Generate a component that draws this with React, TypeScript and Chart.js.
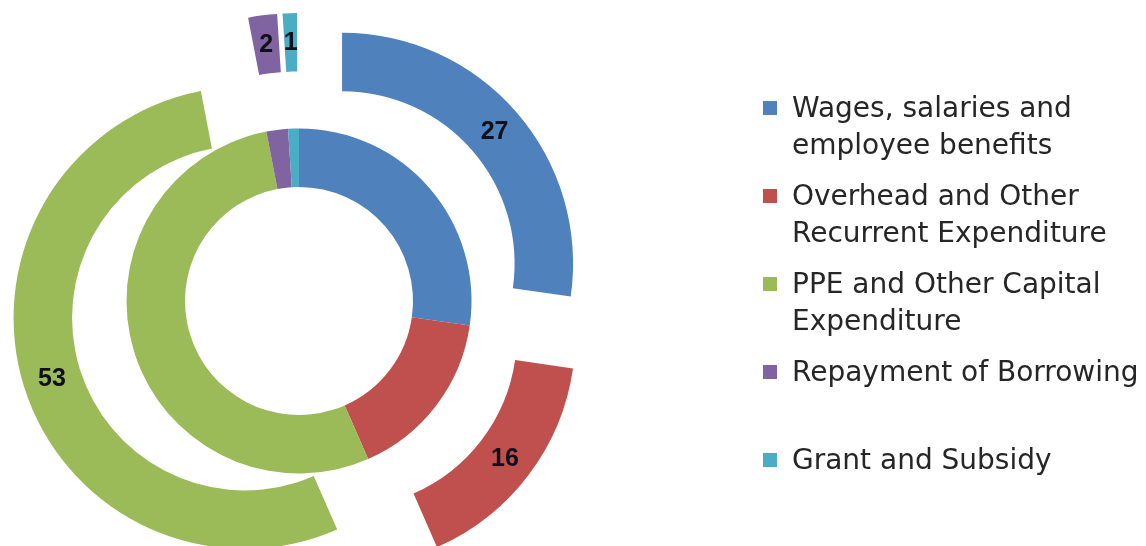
import React, { useEffect, useRef } from "react";
import { Chart, registerables } from "chart.js";

Chart.register(...registerables);

const categories = [
  "Wages, salaries and employee benefits",
  "Overhead and Other Recurrent Expenditure",
  "PPE and Other Capital Expenditure",
  "Repayment of Borrowing",
  "Grant and Subsidy",
];
const legendLines = [
  ["Wages, salaries and", "employee benefits"],
  ["Overhead and Other", "Recurrent Expenditure"],
  ["PPE and Other Capital", "Expenditure"],
  ["Repayment of Borrowing"],
  ["Grant and Subsidy"],
];
const outerValues = [27, 16, 53, 2, 1];
const innerValues = [27, 16, 53, 2, 1];
const colors = ["#4F81BD", "#C0504D", "#9BBB59", "#8064A2", "#4BACC6"];

const EXPLODE = 57;

const explodePlugin = {
  id: "explodeOuter",
  beforeDatasetDraw(chart: any, args: any) {
    if (args.index !== 0) return;
    const ctx = chart.ctx;
    args.meta.data.forEach((arc: any) => {
      const mid = (arc.startAngle + arc.endAngle) / 2;
      ctx.save();
      ctx.translate(Math.cos(mid) * EXPLODE, Math.sin(mid) * EXPLODE);
      arc.draw(ctx);
      ctx.restore();
    });
    return false;
  },
  afterDatasetsDraw(chart: any) {
    const meta = chart.getDatasetMeta(0);
    const ctx = chart.ctx;
    ctx.save();
    ctx.font = "bold 25px 'Liberation Sans', Arial, sans-serif";
    ctx.fillStyle = "#10101c";
    ctx.textAlign = "center";
    ctx.textBaseline = "middle";
    meta.data.forEach((arc: any, i: number) => {
      const mid = (arc.startAngle + arc.endAngle) / 2;
      const p = arc.getCenterPoint();
      ctx.fillText(
        String(chart.data.datasets[0].data[i]),
        p.x + Math.cos(mid) * EXPLODE,
        p.y + Math.sin(mid) * EXPLODE + 1
      );
    });
    ctx.restore();
  },
};

export default function App() {
  const ref = useRef<HTMLCanvasElement | null>(null);
  useEffect(() => {
    if (!ref.current) return;
    const chart = new Chart(ref.current, {
      type: "doughnut",
      data: {
        labels: categories,
        datasets: [
          {
            data: outerValues,
            backgroundColor: colors,
            borderWidth: 0,
            offset: 0,
            hoverOffset: 0,
          },
          {
            data: innerValues,
            backgroundColor: colors,
            borderWidth: 0,
            offset: 0,
            hoverOffset: 0,
          },
        ],
      },
      options: {
        animation: false,
        responsive: true,
        maintainAspectRatio: false,
        cutout: "49.35%",
        layout: { padding: { left: 68, top: 70, right: 616, bottom: 14 } },
        plugins: {
          legend: { display: false },
          tooltip: { enabled: false },
        },
      },
      plugins: [explodePlugin],
    });
    return () => chart.destroy();
  }, []);

  const slot = 88;
  const firstCenter = 108;
  return (
    <div style={{ position: "absolute", left: 0, top: 0, width: 1146, height: 546, background: "#fff" }}>
      <canvas ref={ref} style={{ position: "absolute", left: 0, top: 0 }} />
      {legendLines.map((lines, i) => {
        const c = firstCenter + slot * i;
        return (
          <React.Fragment key={i}>
            <div
              style={{
                position: "absolute",
                left: 763,
                top: c - 7,
                width: 14,
                height: 14,
                background: colors[i],
              }}
            />
            <div
              style={{
                position: "absolute",
                left: 792,
                top: c - 18,
                font: "28px 'DejaVu Sans', sans-serif",
                lineHeight: "36.5px",
                color: "#262626",
                whiteSpace: "nowrap",
              }}
            >
              {lines.map((l, j) => (
                <div key={j}>{l}</div>
              ))}
            </div>
          </React.Fragment>
        );
      })}
    </div>
  );
}
